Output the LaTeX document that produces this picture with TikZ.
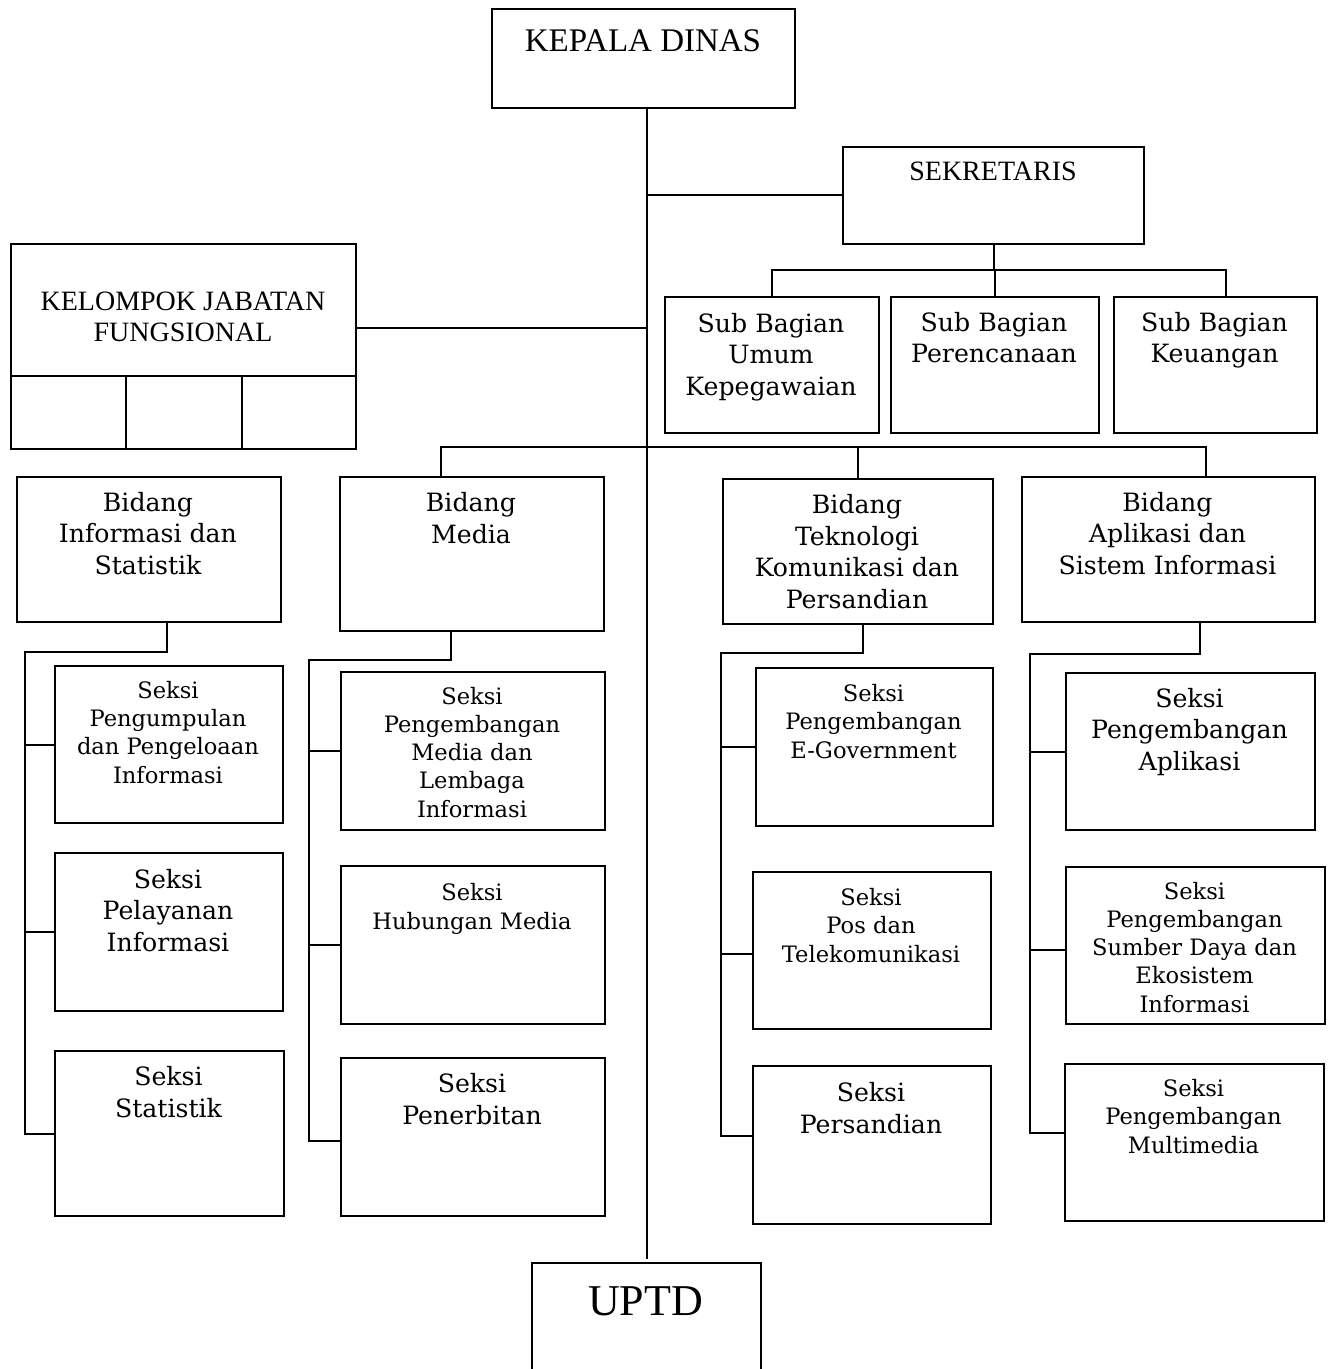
\documentclass[tikz,border=0pt]{standalone}
\usepackage{fontspec}
\setmainfont{DejaVu Serif}
\newfontfamily\timesf{Liberation Serif}
\newcommand\obox[5]{\node[box, minimum width={(#4-#2)*0.5pt}, minimum height={(#5-#3)*0.5pt}] (#1) at (#2,#3) {};}
\tikzset{
  box/.style={draw, line width=1pt, inner sep=0pt, anchor=north west},
  biglbl/.style={anchor=base, align=center, inner sep=0pt, font=\fontsize{12.6}{15.7}\selectfont},
  smalllbl/.style={anchor=base, align=center, inner sep=0pt, font=\fontsize{11.3}{14.1}\selectfont},
  conn/.style={line width=1pt},
}
\begin{document}
\begin{tikzpicture}[x=0.5pt, y=-0.5pt]
\useasboundingbox (0,0) rectangle (1332,1369);
% boxes
\obox{kepala}{491}{8}{794}{107}
\obox{sek}{842}{146}{1143}{243}
\obox{kel}{10}{243}{355}{375}
\obox{kelA}{10}{375}{125}{448}
\obox{kelB}{125}{375}{241}{448}
\obox{kelC}{241}{375}{355}{448}
\obox{subU}{664}{296}{878}{432}
\obox{subP}{890}{296}{1098}{432}
\obox{subK}{1113}{296}{1316}{432}
\obox{bInfo}{16}{476}{280}{621}
\obox{bMedia}{339}{476}{603}{630}
\obox{bTek}{722}{478}{992}{623}
\obox{bApl}{1021}{476}{1314}{621}
\obox{sA}{54}{665}{282}{822}
\obox{sB}{54}{852}{282}{1010}
\obox{sC}{54}{1050}{283}{1215}
\obox{sD}{340}{671}{604}{829}
\obox{sE}{340}{865}{604}{1023}
\obox{sF}{340}{1057}{604}{1215}
\obox{sG}{755}{667}{992}{825}
\obox{sH}{752}{871}{990}{1028}
\obox{sI}{752}{1065}{990}{1223}
\obox{sJ}{1065}{672}{1314}{829}
\obox{sK}{1065}{866}{1324}{1023}
\obox{sL}{1064}{1063}{1323}{1220}
\obox{uptd}{531}{1262}{760}{1385}
% texts (anchored at the baseline of the last line)
\node[anchor=base, inner sep=0pt, font=\timesf\fontsize{16.5}{19}\selectfont] (tkep) at (643,52) {KEPALA DINAS};
\node[anchor=base, inner sep=0pt, font=\timesf\fontsize{14}{16}\selectfont] (tsek) at (993,181) {SEKRETARIS};
\node[anchor=base, align=center, inner sep=0pt, font=\timesf\fontsize{14}{15.6}\selectfont] (tkel) at (183,342) {KELOMPOK JABATAN\\FUNGSIONAL};
\node[anchor=base, inner sep=0pt, font=\timesf\fontsize{22}{25}\selectfont] (tuptd) at (645.5,1315) {UPTD};
\node[biglbl] (tsubU) at (771,395) {Sub Bagian\\Umum\\Kepegawaian};
\node[biglbl] (tsubP) at (994,363) {Sub Bagian\\Perencanaan};
\node[biglbl] (tsubK) at (1214.5,363) {Sub Bagian\\Keuangan};
\node[biglbl] (tbInfo) at (148,574) {Bidang\\Informasi dan\\Statistik};
\node[biglbl] (tbMedia) at (471,543) {Bidang\\Media};
\node[biglbl] (tbTek) at (857,608) {Bidang\\Teknologi\\Komunikasi dan\\Persandian};
\node[biglbl] (tbApl) at (1167.5,574) {Bidang\\Aplikasi dan\\Sistem Informasi};
\node[smalllbl] (tsA) at (168,783) {Seksi\\Pengumpulan\\dan Pengeloaan\\Informasi};
\node[biglbl] (tsB) at (168,951) {Seksi\\Pelayanan\\Informasi};
\node[biglbl] (tsC) at (168.5,1117) {Seksi\\Statistik};
\node[smalllbl] (tsD) at (472,817) {Seksi\\Pengembangan\\Media dan\\Lembaga\\Informasi};
\node[smalllbl] (tsE) at (472,929) {Seksi\\Hubungan Media};
\node[biglbl] (tsF) at (472,1124) {Seksi\\Penerbitan};
\node[smalllbl] (tsG) at (873.5,758) {Seksi\\Pengembangan\\E-Government};
\node[smalllbl] (tsH) at (871,962) {Seksi\\Pos dan\\Telekomunikasi};
\node[biglbl] (tsI) at (871,1133) {Seksi\\Persandian};
\node[biglbl] (tsJ) at (1189.5,770) {Seksi\\Pengembangan\\Aplikasi};
\node[smalllbl] (tsK) at (1194.5,1012) {Seksi\\Pengembangan\\Sumber Daya dan\\Ekosistem\\Informasi};
\node[smalllbl] (tsL) at (1193.5,1153) {Seksi\\Pengembangan\\Multimedia};
% connectors
\draw[conn] (kepala.south -| uptd.north) -- ([yshift=1.5pt]uptd.north);
\draw[conn] (sek.west -| uptd.north) -- (sek.west);
\draw[conn] ([yshift=-9pt]kel.east) -- ([yshift=-9pt]kel.east -| uptd.north);
\coordinate (sbus) at ([yshift=-12.5pt]sek.south);
\draw[conn] (sek.south) -- (sbus);
\draw[conn] (subU.north) |- (sbus) -| ([xshift=5pt]subK.north);
\draw[conn] (subP.north) -- (subP.north |- sbus);
\coordinate (bbus) at (645,447);
\draw[conn] ([xshift=-15.5pt]bMedia.north) |- (bbus) -| ([xshift=18.75pt]bApl.north);
\draw[conn] (bTek.north) -- (bTek.north |- bbus);
% column 1
\coordinate (c1) at (25,652);
\draw[conn] ([xshift=9pt]bInfo.south) |- (c1) |- (sC.west);
\draw[conn] (sA.west) -- (sA.west -| c1);
\draw[conn] (sB.west) -- (sB.west -| c1);
% column 2
\coordinate (c2) at (309,660);
\draw[conn] ([xshift=-10.5pt]bMedia.south) |- (c2) |- ([yshift=-2pt]sF.west);
\draw[conn] (sD.west) -- (sD.west -| c2);
\draw[conn] (sE.west) -- (sE.west -| c2);
% column 3
\coordinate (c3) at (721,653);
\draw[conn] ([xshift=2.5pt]bTek.south) |- (c3) |- ([yshift=4.5pt]sI.west);
\draw[conn] (sG.west) -- (sG.west -| c3);
\draw[conn] ([yshift=-1.5pt]sH.west) -- ([yshift=-1.5pt]sH.west -| c3);
% column 4
\coordinate (c4) at (1030,654);
\draw[conn] ([xshift=15.75pt]bApl.south) |- (c4) |- ([yshift=5pt]sL.west);
\draw[conn] (sJ.west) -- (sJ.west -| c4);
\draw[conn] ([yshift=-2pt]sK.west) -- ([yshift=-2pt]sK.west -| c4);
\end{tikzpicture}
\end{document}
